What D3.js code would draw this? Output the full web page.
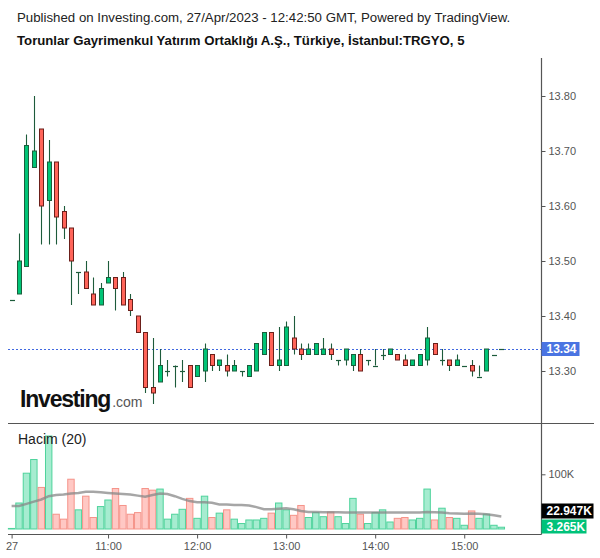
<!DOCTYPE html>
<html><head><meta charset="utf-8">
<script src="https://cdn.jsdelivr.net/npm/d3@7"></script>
<style>
html,body{margin:0;padding:0;background:#fff;}
svg{display:block;font-family:"Liberation Sans",Arial,sans-serif;}
</style></head>
<body>
<svg id="chart" width="600" height="558"></svg>
<script>
const times = ["09:55","10:00","10:05","10:10","10:15","10:20","10:25","10:30","10:35","10:40","10:45","10:50","10:55",
"11:00","11:05","11:10","11:15","11:20","11:25","11:30","11:35","11:40","11:45","11:50","11:55",
"12:00","12:05","12:10","12:15","12:20","12:25","12:30","12:35","12:40","12:45","12:50","12:55",
"13:00","13:05","13:10","13:15","13:20","13:25","13:30","13:35","13:40","13:45","13:50","13:55",
"14:00","14:05","14:10","14:15","14:20","14:25","14:30","14:35","14:40","14:45","14:50","14:55",
"15:00","15:05","15:10","15:15","15:20","15:25"];
const open  = [13.43,13.44,13.49,13.67,13.74,13.61,13.68,13.59,13.56,13.48,13.48,13.44,13.42,13.46,13.47,13.47,13.43,13.40,13.37,13.27,
13.28,13.30,13.31,13.30,13.31,13.29,13.30,13.33,13.31,13.31,13.30,13.30,13.29,13.30,13.33,13.37,13.31,13.31,13.36,13.34,
13.33,13.33,13.33,13.34,13.32,13.32,13.31,13.33,13.32,13.31,13.33,13.33,13.33,13.32,13.31,13.31,13.32,13.35,13.32,13.32,
13.31,13.31,13.31,13.29,13.30,13.33,13.34];
const high  = [13.43,13.55,13.73,13.80,13.74,13.72,13.68,13.60,13.56,13.48,13.50,13.47,13.46,13.50,13.47,13.48,13.44,13.40,13.37,13.36,
13.34,13.32,13.31,13.32,13.31,13.31,13.35,13.33,13.32,13.33,13.32,13.30,13.31,13.35,13.37,13.37,13.38,13.39,13.40,13.35,
13.35,13.35,13.36,13.35,13.32,13.34,13.33,13.34,13.32,13.34,13.34,13.34,13.33,13.33,13.32,13.33,13.38,13.35,13.34,13.32,
13.33,13.31,13.32,13.31,13.34,13.33,13.34];
const low   = [13.43,13.44,13.49,13.67,13.53,13.53,13.53,13.54,13.42,13.44,13.45,13.42,13.42,13.46,13.41,13.42,13.40,13.37,13.26,13.24,
13.28,13.29,13.27,13.28,13.27,13.29,13.28,13.30,13.30,13.29,13.30,13.29,13.29,13.30,13.33,13.31,13.30,13.31,13.33,13.32,
13.33,13.33,13.33,13.32,13.31,13.31,13.30,13.30,13.31,13.31,13.32,13.33,13.32,13.31,13.31,13.31,13.31,13.33,13.31,13.30,
13.31,13.31,13.29,13.29,13.30,13.33,13.34];
const close = [13.43,13.50,13.71,13.70,13.60,13.68,13.58,13.56,13.50,13.48,13.45,13.42,13.45,13.47,13.45,13.42,13.41,13.37,13.27,13.26,
13.31,13.30,13.31,13.30,13.27,13.31,13.34,13.31,13.32,13.30,13.31,13.30,13.31,13.35,13.37,13.31,13.32,13.38,13.34,13.33,
13.34,13.35,13.34,13.33,13.32,13.34,13.33,13.30,13.32,13.31,13.33,13.34,13.32,13.31,13.32,13.33,13.36,13.33,13.32,13.31,
13.32,13.31,13.30,13.29,13.34,13.33,13.34];
const volumeK = [1,47.5,102,127,76,170,27,18,91,35,60,21,41,53,74,43,27,30,74,71,
73,18,27,36,56,19.5,60,21,29,35,18,10,16.5,16.5,19.5,29,47.5,35,25,43,
21,30,22.5,31,22.5,10,56,27,10,30,35,12.8,19.5,21,16.5,19.5,73,16.5,38,21,
19.5,6.8,33,19.5,27,6.8,3.265];
const volumeMA = [42,42,46,50,54,60,62,63,65,66,68,68,67,66,65,64,63,61,59,62,
65,64,60,55,51,49,49,48,45,45,44,44,43,40,36,36,37,38,36,33,
31,31,30.5,30.5,30.5,30,30,30,30,30,30,30,30,30,30,30,31,30.5,30,29,
28.5,28,28.5,28,27,25,22.947];
const priceTicks = [13.30,13.40,13.50,13.60,13.70,13.80];
const timeTicks = ["09:55","11:00","12:00","13:00","14:00","15:00"];
const timeTickLabels = ["27","11:00","12:00","13:00","14:00","15:00"];
const volTicks = [100];
const lastPrice = 13.34;
const lastVolume = 3.265;
const lastMA = 22.947;
const headerLine1 = "Published on Investing.com, 27/Apr/2023 - 12:42:50 GMT, Powered by TradingView.";
const headerLine2 = "Torunlar Gayrimenkul Yatırım Ortaklığı A.Ş., Türkiye, İstanbul:TRGYO, 5";

const svg = d3.select("#chart");
const parse = d3.timeParse("%H:%M");
const dates = times.map(parse);

const axisX = 541.5;
const x = d3.scaleTime().domain([parse("09:55"), parse("15:00")]).range([11.6, 11.6 + 61*7.42]);
const y = d3.scaleLinear().domain([13.30, 13.80]).range([371, 96]);
const yv = d3.scaleLinear().domain([0, 100]).range([529, 474.3]);

const GREEN = "#00c476", GREEN_B = "#1b5e3c", RED = "#ff6459", RED_B = "#6b1f1a", WICK = "#1d5b3b";

// header
svg.append("text").attr("x",17).attr("y",22).attr("font-size",13.25).attr("fill","#222").text(headerLine1);
svg.append("text").attr("x",17).attr("y",45).attr("font-size",13.2).attr("font-weight","bold").attr("fill","#111").text(headerLine2);

// frames
svg.append("line").attr("x1",axisX).attr("x2",axisX).attr("y1",58).attr("y2",534.5).attr("stroke","#555").attr("stroke-width",1.2);
svg.append("line").attr("x1",8).attr("x2",594).attr("y1",423.5).attr("y2",423.5).attr("stroke","#555").attr("stroke-width",1.2);
svg.append("line").attr("x1",8).attr("x2",axisX).attr("y1",534.5).attr("y2",534.5).attr("stroke","#555").attr("stroke-width",1.2);

// price axis
const pa = svg.append("g").attr("transform",`translate(${axisX},0)`)
  .call(d3.axisRight(y).tickValues(priceTicks).tickFormat(d3.format(".2f")).tickSize(4).tickPadding(3));
pa.select(".domain").remove();
pa.selectAll("line").attr("stroke","#555");
pa.selectAll("text").attr("font-size",11).attr("fill","#555").attr("font-family","Liberation Sans, Arial, sans-serif");

// volume axis
const va = svg.append("g").attr("transform",`translate(${axisX},0)`)
  .call(d3.axisRight(yv).tickValues(volTicks).tickFormat(d=>d+"K").tickSize(4).tickPadding(3));
va.select(".domain").remove();
va.selectAll("line").attr("stroke","#555");
va.selectAll("text").attr("font-size",11).attr("fill","#555").attr("font-family","Liberation Sans, Arial, sans-serif");

// time axis
const ta = svg.append("g").attr("transform","translate(0,534.5)")
  .call(d3.axisBottom(x).tickValues(timeTicks.map(parse)).tickFormat((d,i)=>timeTickLabels[i]).tickSize(4).tickPadding(4));
ta.select(".domain").remove();
ta.selectAll("line").attr("stroke","#555");
ta.selectAll("text").attr("font-size",11).attr("fill","#555").attr("font-family","Liberation Sans, Arial, sans-serif");

// last price dotted line
svg.append("line").attr("x1",8).attr("x2",axisX).attr("y1",Math.round(y(lastPrice))+0.5).attr("y2",Math.round(y(lastPrice))+0.5)
  .attr("stroke","#4169e1").attr("stroke-width",1).attr("stroke-dasharray","2,2");

// volume bars
const bars = d3.range(times.length).map(i=>({t:dates[i],o:open[i],h:high[i],l:low[i],c:close[i],v:volumeK[i],ma:volumeMA[i]}));
const bw = 7.42;
svg.append("g").selectAll("rect").data(bars).join("rect")
  .attr("x",d=>x(d.t)-bw/2+0.5).attr("width",bw-1)
  .attr("y",d=>yv(d.v)).attr("height",d=>Math.max(0.5,yv(0)-yv(d.v)))
  .attr("fill",d=>d.c>=d.o?"#a6ecd0":"#ffc8c4")
  .attr("stroke",d=>d.c>=d.o?"#4fd39c":"#f59389").attr("stroke-width",1);

// volume MA
svg.append("path").datum(bars)
  .attr("d",d3.line().x(d=>x(d.t)).y(d=>yv(d.ma)))
  .attr("fill","none").attr("stroke","#888").attr("stroke-opacity",0.75).attr("stroke-width",2.5);

// candles
const cg = svg.append("g");
bars.forEach(d=>{
  const cx = Math.round(x(d.t));
  if (d.h > Math.max(d.o,d.c) || d.l < Math.min(d.o,d.c)) {
    cg.append("line").attr("x1",cx+0.5).attr("x2",cx+0.5).attr("y1",y(d.h)).attr("y2",y(d.l)).attr("stroke",WICK).attr("stroke-width",1.1);
  }
  if (d.o === d.c) {
    cg.append("line").attr("x1",cx-2).attr("x2",cx+3).attr("y1",Math.round(y(d.o))+0.5).attr("y2",Math.round(y(d.o))+0.5)
      .attr("stroke",WICK).attr("stroke-width",1.2);
  } else {
    const up = d.c > d.o;
    const top = y(Math.max(d.o,d.c)), bot = y(Math.min(d.o,d.c));
    cg.append("rect").attr("x",cx-1.5).attr("width",4).attr("y",top).attr("height",bot-top)
      .attr("fill",up?GREEN:RED).attr("stroke",up?GREEN_B:RED_B).attr("stroke-width",1);
  }
});

// last price label
const ly = y(lastPrice);
svg.append("rect").attr("x",axisX).attr("y",ly-7).attr("width",38).attr("height",14).attr("fill","#4a74e2");
svg.append("text").attr("x",axisX+5).attr("y",ly).attr("dy","0.36em").attr("font-size",12).attr("font-weight","bold").attr("fill","#fff").text(lastPrice.toFixed(2));

// volume labels
svg.append("rect").attr("x",axisX).attr("y",503.5).attr("width",52).attr("height",15).attr("fill","#000");
svg.append("text").attr("x",axisX+5).attr("y",511).attr("dy","0.36em").attr("font-size",12).attr("font-weight","bold").attr("fill","#fff").text(lastMA.toFixed(3)+"K");
svg.append("rect").attr("x",axisX).attr("y",519.5).attr("width",45).attr("height",14).attr("fill","#00c27a");
svg.append("text").attr("x",axisX+5).attr("y",526.5).attr("dy","0.36em").attr("font-size",12).attr("font-weight","bold").attr("fill","#fff").text(lastVolume.toFixed(3)+"K");

// Hacim label
svg.append("text").attr("x",18).attr("y",444).attr("font-size",14).attr("fill","#222").text("Hacim (20)");

// Investing logo
const logo = svg.append("text").attr("x",20).attr("y",407).attr("font-family","Liberation Sans, Arial, sans-serif");
logo.append("tspan").attr("font-size",23).attr("font-weight","bold").attr("fill","#111").attr("letter-spacing","-1.2").text("Investing");
logo.append("tspan").attr("font-size",14).attr("fill","#555").attr("dx",2).text(".com");
</script>
</body></html>
